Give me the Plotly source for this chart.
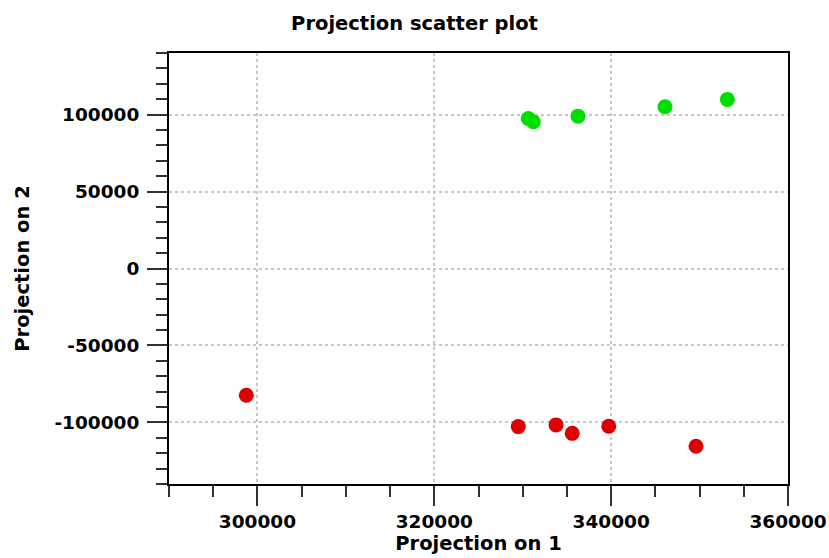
import plotly.graph_objects as go

red_x = [298740, 329500, 333770, 335600, 339730, 349600]
red_y = [-82300, -102700, -101600, -107100, -102500, -115500]
green_x = [330630, 331200, 336250, 346090, 353140]
green_y = [97470, 95320, 98970, 105100, 109860]

x_tick_vals = [300000, 320000, 340000, 360000]
x_tick_labels = ["300000", "320000", "340000", "360000"]
y_tick_vals = [-100000, -50000, 0, 50000, 100000]
y_tick_labels = ["-100000", "-50000", "0", "50000", "100000"]

FONT = "DejaVu Sans"
TICK = "rgb(50,50,50)"

fig = go.Figure()
fig.add_trace(go.Scatter(x=red_x, y=red_y, mode="markers",
                         marker=dict(color="rgb(222,0,0)", size=15), showlegend=False))
fig.add_trace(go.Scatter(x=green_x, y=green_y, mode="markers",
                         marker=dict(color="rgb(0,222,0)", size=15), showlegend=False))

grid = dict(showgrid=True, gridcolor="rgb(200,200,200)", griddash="dot", gridwidth=2)

fig.update_layout(
    width=829, height=558,
    margin=dict(l=169, r=41, t=53, b=74, autoexpand=False),
    plot_bgcolor="white", paper_bgcolor="white",
    title=dict(text="Projection scatter plot", x=0.5, xanchor="center", y=0.958, yanchor="middle",
               automargin=False,
               font=dict(family=FONT, size=19.5, color="black", weight="bold")),
    xaxis=dict(range=[290000, 360000], tickvals=x_tick_vals, ticktext=x_tick_labels,
               automargin=False,
               showline=True, linecolor="black", linewidth=2, mirror=True,
               ticks="outside", ticklen=20, tickwidth=2, tickcolor=TICK,
               minor=dict(dtick=5000, tick0=0, ticks="outside", ticklen=11, tickwidth=2,
                          tickcolor=TICK, showgrid=False),
               tickfont=dict(family=FONT, size=18.5, color="black", weight="bold"),
               title=dict(text="Projection on 1", standoff=5,
                          font=dict(family=FONT, size=19.5, color="black", weight="bold")),
               zeroline=False, **grid),
    yaxis=dict(range=[-140000, 140000], tickvals=y_tick_vals, ticktext=y_tick_labels,
               automargin=False,
               showline=True, linecolor="black", linewidth=2, mirror=True,
               ticks="outside", ticklen=20, tickwidth=2, tickcolor=TICK,
               ticklabelstandoff=4,
               minor=dict(dtick=10000, tick0=0, ticks="outside", ticklen=11, tickwidth=2,
                          tickcolor=TICK, showgrid=False),
               tickfont=dict(family=FONT, size=18.5, color="black", weight="bold"),
               title=dict(text="Projection on 2", standoff=20,
                          font=dict(family=FONT, size=19.5, color="black", weight="bold")),
               zeroline=False, **grid),
)

fig.write_html("out.html", config={"displayModeBar": False},
               post_script="document.body.style.margin='0';")
